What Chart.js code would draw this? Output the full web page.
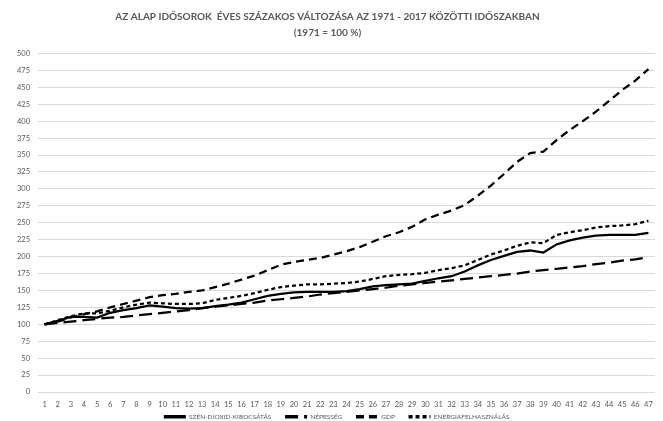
<!DOCTYPE html>
<html>
<head>
<meta charset="utf-8">
<script src="https://cdn.jsdelivr.net/npm/chart.js@4/dist/chart.umd.min.js"></script>
<style>
  html, body { margin: 0; padding: 0; background: #fff; }
  #wrap { width: 663px; height: 421px; }
</style>
</head>
<body>
<div id="wrap"><canvas id="grafika" width="663" height="421"></canvas></div>
<script>
// evek (1971 = 1 ... 2017 = 47)
const evek = [];
for (let i = 1; i <= 47; i++) evek.push(String(i));

const szenDioxid = [100, 105, 111, 111, 110, 117, 121, 124, 128, 126,
    124, 123, 124, 127, 129, 132, 137, 142, 145, 147,
    148, 148, 148, 149, 152, 156, 158, 159, 160, 164,
    168, 171, 178, 187, 195, 201, 207, 209, 206, 218,
    224, 228, 231, 232, 232, 232, 235];

const nepesseg = [100, 102, 104, 106, 108, 110, 111, 113, 115, 117,
    119, 121, 124, 126, 128, 130, 132, 135, 137, 139,
    141, 144, 146, 148, 150, 152, 154, 157, 159, 161,
    163, 165, 167, 169, 171, 173, 175, 178, 180, 182,
    184, 186, 189, 191, 194, 196, 199];

const gdp = [100, 104, 110, 115, 119, 125, 130, 135, 140, 143,
    145, 148, 150, 155, 160, 166, 172, 180, 188, 192,
    195, 198, 203, 208, 214, 222, 230, 236, 244, 255,
    262, 268, 276, 290, 305, 322, 340, 353, 355, 372,
    387, 400, 414, 430, 446, 460, 477];

const energia = [100, 106, 112, 116, 116, 120, 125, 129, 132, 131,
    130, 130, 131, 136, 139, 142, 146, 151, 155, 157,
    159, 159, 160, 161, 163, 167, 171, 173, 174, 176,
    180, 183, 187, 195, 203, 209, 216, 221, 220, 232,
    236, 239, 243, 245, 246, 248, 253];

const szurke = '#595959';

function sorozat(nev, adatok, szaggatas) {
    return {
        label: nev,
        data: adatok,
        borderColor: '#000',
        backgroundColor: '#000',
        borderWidth: 2.25,
        borderDash: szaggatas,
        pointRadius: 0,
        tension: 0,
        fill: false
    };
}

// jelmagyarazat kicsit jobbra, mint az eredetin
const legendEltolas = {
    id: 'legendEltolas',
    afterLayout: function (chart) {
        if (chart.legend) {
            chart.legend.left += 14;
            chart.legend.right += 14;
        }
    }
};

const ctx = document.getElementById('grafika').getContext('2d');
new Chart(ctx, {
    type: 'line',
    data: {
        labels: evek,
        datasets: [
            sorozat('SZÉN-DIOXID-KIBOCSÁTÁS', szenDioxid, []),
            sorozat('NÉPESSÉG', nepesseg, [13, 6]),
            sorozat('GDP', gdp, [8, 5]),
            sorozat('ENERGIAFELHASZNÁLÁS', energia, [4, 3])
        ]
    },
    plugins: [legendEltolas],
    options: {
        responsive: false,
        animation: false,
        devicePixelRatio: 1,
        layout: { padding: { left: 0, right: 8, top: 5, bottom: -9 } },
        plugins: {
            title: {
                display: true,
                text: ['AZ ALAP IDŐSOROK  ÉVES SZÁZAKOS VÁLTOZÁSA AZ 1971 - 2017 KÖZÖTTI IDŐSZAKBAN', '(1971 = 100 %)'],
                color: szurke,
                font: { family: 'Lato', size: 10, weight: 'bold', lineHeight: 1.6 },
                padding: { top: 4, bottom: 12.5 }
            },
            legend: {
                position: 'bottom',
                labels: {
                    color: szurke,
                    font: { family: 'Lato', size: 6.5 },
                    usePointStyle: true,
                    pointStyle: 'line',
                    pointStyleWidth: 22,
                    boxHeight: 6,
                    padding: 4,
                    generateLabels: function (chart) {
                        const elemek = Chart.defaults.plugins.legend.labels.generateLabels(chart);
                        elemek.forEach(function (e) {
                            const ds = chart.data.datasets[e.datasetIndex];
                            e.lineDash = ds.borderDash;
                            e.lineWidth = 3.5;
                            e.strokeStyle = '#000';
                            e.text = e.text + '\u2002\u2002\u2002';
                        });
                        return elemek;
                    }
                }
            },
            tooltip: { enabled: false }
        },
        scales: {
            x: {
                offset: true,
                grid: { display: false },
                border: { display: false },
                ticks: {
                    color: szurke,
                    font: { family: 'Lato', size: 7.5 },
                    maxRotation: 0,
                    autoSkip: false,
                    padding: 0
                },
                afterFit: function (skala) { skala.height = 17.5; }
            },
            y: {
                min: 0,
                max: 500,
                grid: { color: '#d9d9d9', drawTicks: false },
                border: { display: false },
                ticks: {
                    stepSize: 25,
                    color: szurke,
                    font: { family: 'Lato', size: 7.5 },
                    padding: 8
                },
                afterFit: function (skala) { skala.width = 38; }
            }
        }
    }
});
</script>
</body>
</html>
